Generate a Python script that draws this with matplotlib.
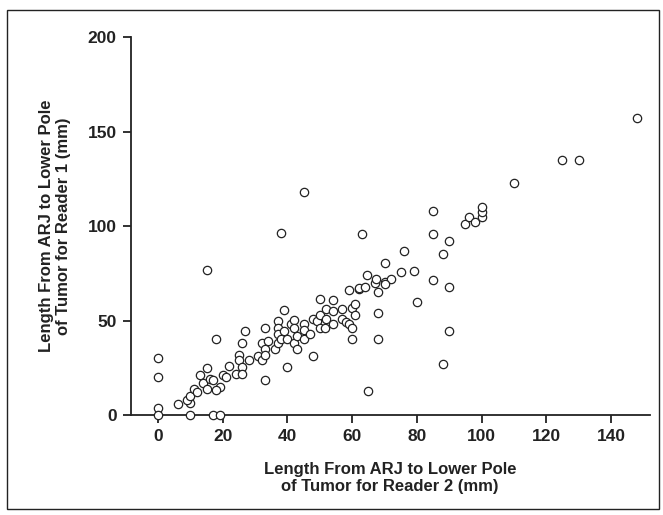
import matplotlib.pyplot as plt
from matplotlib.patches import Rectangle

# Reader 2 (x) vs Reader 1 (y), lengths in mm
reader2 = [0, 0, 0, 0, 10, 17, 19,
           6, 10, 9, 10, 11, 12, 13, 15, 14, 15, 16, 17, 18, 19, 18,
           20, 21, 22, 24, 15,
           25, 25, 26, 26, 26, 27, 28, 31, 32, 33, 33, 32, 33, 34, 33, 36,
           37, 37, 37, 37, 38, 39, 39, 40, 40, 41, 42, 42, 42, 43, 43,
           45, 45, 45, 47, 48, 48, 49, 50, 50, 50, 51.5, 52, 52, 54, 54, 54,
           57, 57, 58, 59, 59, 60, 60, 60, 61, 61, 62, 62, 64, 64.5, 65, 67,
           67.5, 68, 68, 68, 70, 70, 72, 38, 45, 63,
           70, 75, 79, 76, 85, 88, 90, 90, 80, 90, 88, 85, 85,
           95, 96, 98, 100, 100, 100, 110, 125, 130, 148]
reader1 = [30, 20, 4, 0, 0, 0, 0,
           6, 6.5, 8, 10, 14, 12, 21, 25, 17, 14, 19, 18.5, 40, 15, 13.5,
           21, 20, 26, 22, 77,
           32, 29, 25.5, 22, 38, 44.5, 29, 31, 29, 46, 18.5, 38, 35, 39, 32, 35,
           50, 46, 43, 38, 40, 55.5, 44.5, 25.5, 40, 48, 50.5, 46, 38, 42, 35,
           48, 45, 40.5, 43, 51, 31, 50, 61.5, 53, 46, 46, 56, 51, 61, 55, 48,
           56, 51, 49.5, 66, 48, 46, 40, 56.5, 59, 53, 66.5, 67.5, 68, 74, 13, 70,
           72, 65, 54, 40.5, 70.5, 80.5, 72, 96.5, 118, 96,
           69.5, 75.5, 76.5, 87, 71.5, 85, 92, 68, 60, 44.5, 27, 96, 108,
           101, 105, 102, 105, 107.5, 110, 123, 135, 135, 157]

xticks = [0, 20, 40, 60, 80, 100, 120, 140]
yticks = [0, 50, 100, 150, 200]

plt.rcParams['font.family'] = ['Liberation Sans', 'DejaVu Sans']
plt.rcParams['font.weight'] = 'bold'

fig = plt.figure(figsize=(6.63, 5.15), dpi=100)
ax = fig.add_axes([0.197, 0.194, 0.783, 0.734])

ax.scatter(reader2, reader1, s=36, facecolors='white', edgecolors='#222222',
           linewidths=0.9, zorder=3, clip_on=False)

ax.set_xlim(-8.5, 152)
ax.set_ylim(0, 200)
ax.set_xticks(xticks)
ax.set_yticks(yticks)
ax.spines['top'].set_visible(False)
ax.spines['right'].set_visible(False)
for s in ['left', 'bottom']:
    ax.spines[s].set_linewidth(1.3)
    ax.spines[s].set_color('#222222')
ax.tick_params(direction='out', length=6, width=1.3, color='#222222',
               labelsize=12.5, labelcolor='#222222', pad=4)
for lab in ax.get_xticklabels() + ax.get_yticklabels():
    lab.set_fontweight('bold')

ax.set_xlabel('Length From ARJ to Lower Pole\nof Tumor for Reader 2 (mm)',
              fontsize=12, fontweight='bold', color='#222222', labelpad=13,
              linespacing=1.15)
ax.set_ylabel('Length From ARJ to Lower Pole\nof Tumor for Reader 1 (mm)',
              fontsize=12, fontweight='bold', color='#222222', labelpad=12,
              linespacing=1.15)

# thin frame round the whole figure
fig.patches.append(Rectangle((0.011, 0.012), 0.983, 0.969, transform=fig.transFigure,
                             fill=False, edgecolor='#222222', linewidth=1.0))

plt.savefig('out.png', dpi=100)
